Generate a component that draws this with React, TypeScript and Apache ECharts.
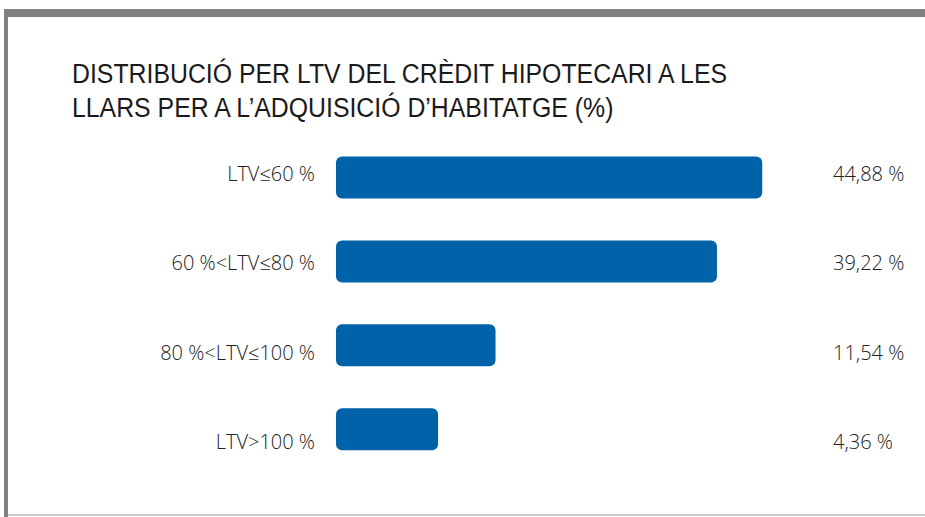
import React, { useEffect, useRef } from "react";
import * as echarts from "echarts";

const titleLines = [
  "DISTRIBUCIÓ PER LTV DEL CRÈDIT HIPOTECARI A LES",
  "LLARS PER A L’ADQUISICIÓ D’HABITATGE (%)",
];
const categories = ["LTV≤60 %", "60 %<LTV≤80 %", "80 %<LTV≤100 %", "LTV>100 %"];
const values = [44.88, 39.22, 11.54, 4.36];
const valueLabels = values.map((v) => v.toFixed(2).replace(".", ",") + " %");

const BLUE = "#0063a9";
const LABEL_FONT = "'Open Sans', sans-serif";

export default function App() {
  const ref = useRef<HTMLDivElement>(null);
  useEffect(() => {
    if (!ref.current) return;
    const chart = echarts.init(ref.current, undefined, { renderer: "svg" });
    chart.setOption({
      animation: false,
      backgroundColor: "#ffffff",
      graphic: [
        { type: "rect", shape: { x: 4, y: 9, width: 921, height: 8 }, style: { fill: "#808080" } },
        { type: "rect", shape: { x: 4, y: 9, width: 4, height: 508 }, style: { fill: "#808080" } },
        { type: "rect", shape: { x: 8, y: 514, width: 917, height: 2 }, style: { fill: "#cccccc" } },
        {
          type: "text",
          x: 72,
          y: 57,
          scaleX: 0.92,
          style: {
            text: titleLines.join("\n"),
            fontFamily: "'Liberation Sans', Arial, sans-serif",
            fontSize: 27,
            lineHeight: 33.5,
            fill: "#1a1a1a",
            verticalAlign: "top",
            align: "left",
          },
        },
      ],
      grid: [
        { left: 336, top: 135.5, width: 547.2, height: 335.7 },
        { left: 336, top: 128.8, width: 489, height: 357.4 },
      ],
      xAxis: [
        {
          type: "value",
          gridIndex: 0,
          min: -8.4,
          max: 60,
          startValue: -8.4,
          show: false,
          splitLine: { show: false },
        },
        { type: "value", gridIndex: 1, min: 0, max: 1, show: false },
      ],
      yAxis: [
        {
          type: "category",
          gridIndex: 0,
          data: categories,
          inverse: true,
          show: false,
        },
        {
          type: "category",
          gridIndex: 1,
          data: categories,
          inverse: true,
          position: "left",
          axisLine: { show: false },
          axisTick: { show: false },
          axisLabel: {
            margin: 21,
            fontFamily: LABEL_FONT,
            fontWeight: 300,
            fontSize: 20,
            color: "#222222",
          },
        },
        {
          type: "category",
          gridIndex: 1,
          data: valueLabels,
          inverse: true,
          position: "right",
          axisLine: { show: false },
          axisTick: { show: false },
          axisLabel: {
            margin: 8,
            fontFamily: LABEL_FONT,
            fontWeight: 300,
            fontSize: 20,
            color: "#222222",
          },
        },
      ],
      series: [
        {
          type: "bar",
          xAxisIndex: 0,
          yAxisIndex: 0,
          data: values,
          barWidth: 42,
          itemStyle: { color: BLUE, borderRadius: 6 },
          silent: true,
        },
      ],
    });
    return () => chart.dispose();
  }, []);
  return (
    <div
      ref={ref}
      style={{ position: "fixed", left: 0, top: 0, width: 925, height: 517 }}
    />
  );
}
